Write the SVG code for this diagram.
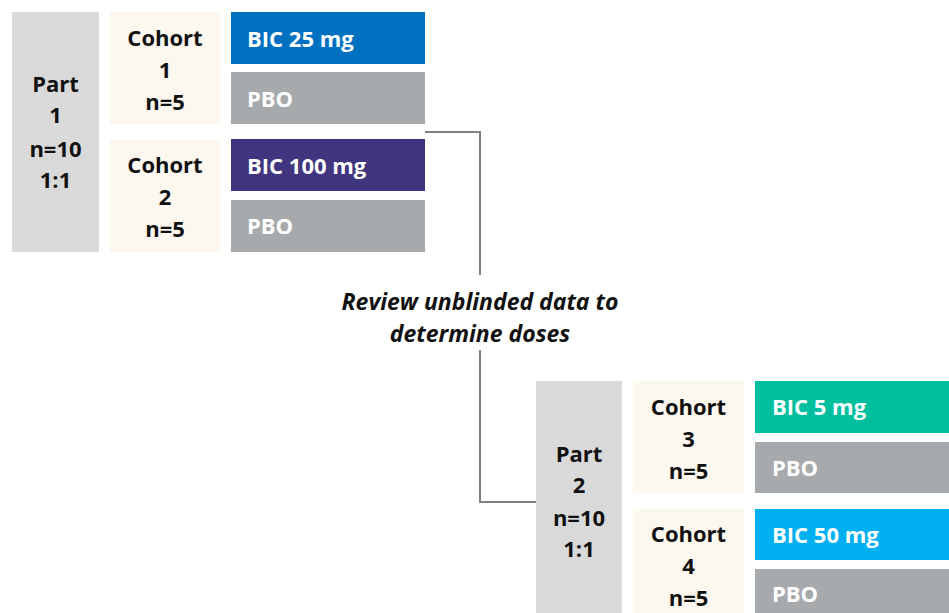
<svg xmlns="http://www.w3.org/2000/svg" width="949" height="613" viewBox="0 0 949 613">
  <style>
    text { font-family: "Open Sans", "Liberation Sans", sans-serif; font-weight: bold; font-size: 22px; }
    .part { fill: #D9D9D9; }
    .cohort { fill: #FDF8EF; }
    .pbo { fill: #A7AAAD; }
    .dark { fill: #111111; text-anchor: middle; }
    .arm { fill: #FFFFFF; }
    .conn { fill: none; stroke: #7F7F7F; stroke-width: 2; }
    .note { font-style: italic; font-size: 23px; fill: #111111; text-anchor: middle; }
  </style>
  <rect width="949" height="613" fill="#FFFFFF"/>

  <!-- Part 1 -->
  <g id="part1">
    <rect class="part" x="12" y="12" width="87" height="240"/>
    <text class="dark" x="55.5" y="92">Part</text>
    <text class="dark" x="55.5" y="123">1</text>
    <text class="dark" x="55.5" y="157">n=10</text>
    <text class="dark" x="55.5" y="188">1:1</text>
  </g>
  <g id="cohort1">
    <rect class="cohort" x="110" y="12" width="110" height="112"/>
    <text class="dark" x="165" y="46">Cohort</text>
    <text class="dark" x="165" y="78">1</text>
    <text class="dark" x="165" y="110">n=5</text>
  </g>
  <g id="cohort2">
    <rect class="cohort" x="110" y="140" width="110" height="112"/>
    <text class="dark" x="165" y="173">Cohort</text>
    <text class="dark" x="165" y="205">2</text>
    <text class="dark" x="165" y="237">n=5</text>
  </g>
  <g id="bic25">
    <rect x="231" y="12" width="194" height="52" fill="#0070C0"/>
    <text class="arm" x="247" y="47">BIC 25 mg</text>
  </g>
  <g id="pbo1">
    <rect class="pbo" x="231" y="72" width="194" height="52"/>
    <text class="arm" x="247" y="107">PBO</text>
  </g>
  <g id="bic100">
    <rect x="231" y="139" width="194" height="52" fill="#41357F"/>
    <text class="arm" x="247" y="174">BIC 100 mg</text>
  </g>
  <g id="pbo2">
    <rect class="pbo" x="231" y="200" width="194" height="52"/>
    <text class="arm" x="247" y="234">PBO</text>
  </g>

  <!-- Part 2 -->
  <g id="part2">
    <rect class="part" x="536" y="381" width="86" height="240"/>
    <text class="dark" x="579" y="462">Part</text>
    <text class="dark" x="579" y="493">2</text>
    <text class="dark" x="579" y="526">n=10</text>
    <text class="dark" x="579" y="557">1:1</text>
  </g>
  <g id="cohort3">
    <rect class="cohort" x="633" y="381" width="111" height="112"/>
    <text class="dark" x="688.5" y="415">Cohort</text>
    <text class="dark" x="688.5" y="447">3</text>
    <text class="dark" x="688.5" y="479">n=5</text>
  </g>
  <g id="cohort4">
    <rect class="cohort" x="633" y="509" width="111" height="112"/>
    <text class="dark" x="688.5" y="542">Cohort</text>
    <text class="dark" x="688.5" y="574">4</text>
    <text class="dark" x="688.5" y="606">n=5</text>
  </g>
  <g id="bic5">
    <rect x="755" y="381" width="194" height="52" fill="#00BF9F"/>
    <text class="arm" x="772" y="415">BIC 5 mg</text>
  </g>
  <g id="pbo3">
    <rect class="pbo" x="755" y="442" width="194" height="51"/>
    <text class="arm" x="772" y="476">PBO</text>
  </g>
  <g id="bic50">
    <rect x="755" y="509" width="194" height="51" fill="#00B0F0"/>
    <text class="arm" x="772" y="543">BIC 50 mg</text>
  </g>
  <g id="pbo4">
    <rect class="pbo" x="755" y="569" width="194" height="52"/>
    <text class="arm" x="772" y="602">PBO</text>
  </g>

  <!-- Review step -->
  <g id="review">
    <text class="note" x="480" y="310">Review unblinded data to</text>
    <text class="note" x="480" y="342">determine doses</text>
  </g>

  <!-- Connectors -->
  <g id="connectors">
    <polyline class="conn" points="425,132 480,132 480,275"/>
    <polyline class="conn" points="480,350 480,502 536,502"/>
  </g>
</svg>
